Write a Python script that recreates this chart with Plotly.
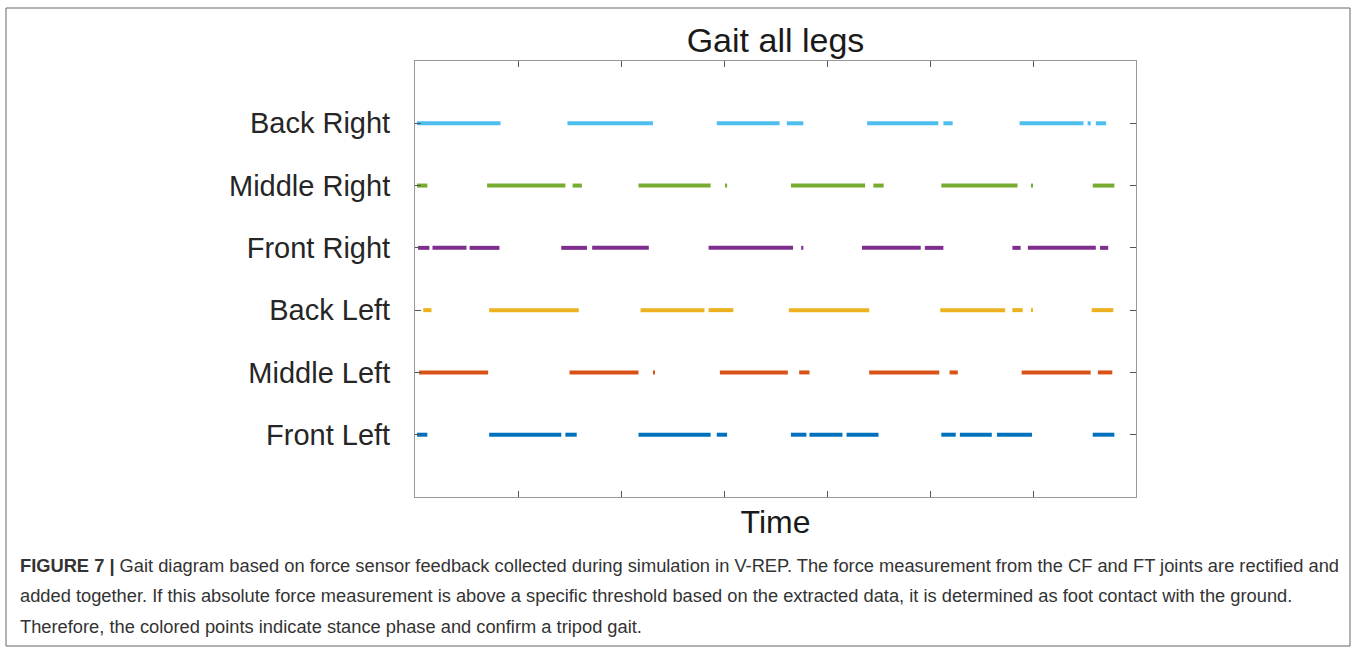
import plotly.graph_objects as go

# Stance intervals (start, end) per leg, in time units
legs = ["Front Left", "Middle Left", "Back Left", "Front Right", "Middle Right", "Back Right"]
colors = ["#0072BD", "#D95319", "#EDB120", "#7E2F8E", "#77AC30", "#4DBEEE"]

front_left = [(0.02, 0.12), (0.72, 1.42), (1.46, 1.57), (2.17, 2.87), (2.93, 3.03),
              (3.65, 3.80), (3.83, 4.15), (4.19, 4.50), (5.11, 5.25), (5.29, 5.60),
              (5.65, 5.99), (6.58, 6.79)]
middle_left = [(0.04, 0.71), (1.50, 2.17), (2.31, 2.33), (2.96, 3.62), (3.73, 3.83),
               (4.41, 5.09), (5.19, 5.27), (5.89, 6.56), (6.63, 6.77)]
back_left = [(0.08, 0.16), (0.72, 1.59), (2.19, 2.81), (2.85, 3.09), (3.63, 4.41),
             (5.10, 5.73), (5.80, 5.90), (5.98, 6.00), (6.57, 6.78)]
front_right = [(0.03, 0.14), (0.17, 0.50), (0.53, 0.82), (1.42, 1.67), (1.72, 2.27),
               (2.85, 3.67), (3.75, 3.77), (4.34, 4.91), (4.95, 5.13), (5.80, 5.88),
               (5.95, 6.61), (6.65, 6.73)]
middle_right = [(0.02, 0.12), (0.70, 1.46), (1.53, 1.62), (2.17, 2.87), (3.01, 3.03),
                (3.65, 4.37), (4.45, 4.55), (5.11, 5.85), (5.98, 6.00), (6.58, 6.79)]
back_right = [(0.02, 0.83), (1.48, 2.31), (2.93, 3.54), (3.61, 3.77), (4.39, 5.08),
              (5.13, 5.22), (5.87, 6.49), (6.53, 6.56), (6.61, 6.71)]

stance = [front_left, middle_left, back_left, front_right, middle_right, back_right]
row_pos = [1, 2, 3, 4, 5, 6]
time_ticks = [1, 2, 3, 4, 5, 6]

caption_lines = [
    "<b>FIGURE 7 |</b> Gait diagram based on force sensor feedback collected during simulation in V-REP. "
    "The force measurement from the CF and FT joints are rectified and",
    "added together. If this absolute force measurement is above a specific threshold based on the "
    "extracted data, it is determined as foot contact with the ground.",
    "Therefore, the colored points indicate stance phase and confirm a tripod gait.",
]

fig = go.Figure()
for name, col, segs, yv in zip(legs, colors, stance, row_pos):
    xs, ys = [], []
    for a, b in segs:
        xs += [a, b, None]
        ys += [yv, yv, None]
    fig.add_trace(go.Scatter(x=xs, y=ys, mode="lines", name=name,
                             line=dict(color=col, width=4), showlegend=False,
                             hoverinfo="skip"))

W, H = 1357, 652
L, R, T, B = 415, 1136, 61, 497
pw, ph = R - L, B - T

def px(xp):
    return (xp - L) / pw

def py(yp):
    return (B - yp) / ph

fig.update_layout(
    width=W, height=H,
    margin=dict(l=L, r=W - R, t=T, b=H - B),
    paper_bgcolor="white", plot_bgcolor="white",
    font=dict(family="Liberation Sans, Arial, sans-serif", color="#262626"),
    xaxis=dict(range=[0, 7], tickvals=time_ticks, showticklabels=False,
               ticks="inside", ticklen=6, tickcolor="#555", showgrid=False,
               zeroline=False, showline=True, linecolor="#999", linewidth=1,
               mirror="allticks",
               title=dict(text="Time", font=dict(size=32, color="#1a1a1a"), standoff=13)),
    yaxis=dict(range=[0, 7], tickvals=row_pos, ticktext=legs,
               tickfont=dict(size=29, color="#262626"),
               ticks="inside", ticklen=6, tickcolor="#555", showgrid=False,
               zeroline=False, showline=True, linecolor="#999", linewidth=1,
               mirror="allticks", ticklabelstandoff=18),
    title=dict(text="Gait all legs", xref="paper", x=0.5, xanchor="center",
               y=1 - 40 / H, yanchor="middle",
               font=dict(size=34, color="#1a1a1a")),
    shapes=[dict(type="rect", xref="paper", yref="paper",
                 x0=px(6), x1=px(1350), y0=py(646), y1=py(8),
                 line=dict(color="#666", width=1), fillcolor="rgba(0,0,0,0)", layer="below")],
)

for i, line in enumerate(caption_lines):
    fig.add_annotation(text=line, xref="paper", yref="paper", x=px(18), y=py(565 + 30.5 * i),
                       xanchor="left", yanchor="middle", showarrow=False, align="left",
                       font=dict(size=18.3, color="#333", family="Liberation Sans, Arial, sans-serif"))

fig.write_html("out.html")
